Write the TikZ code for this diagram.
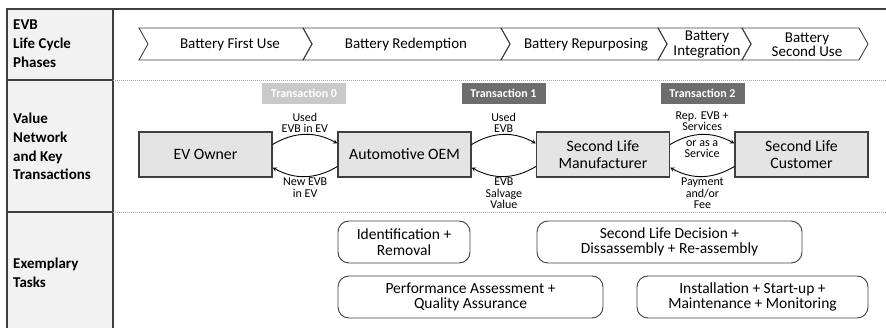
\documentclass[tikz,border=0pt]{standalone}
\usepackage{fontspec}
\setmainfont{Carlito}
\usepackage{tikz}
\usetikzlibrary{shapes,shapes.geometric,positioning,arrows}

\definecolor{framegray}{HTML}{3F3F3F}
\definecolor{headfill}{HTML}{F2F2F2}
\definecolor{actorfill}{HTML}{E4E4E4}
\definecolor{tralight}{HTML}{C9C9C9}
\definecolor{tradark}{HTML}{6D6D6D}

\tikzset{
    frame/.style={draw=framegray, line width=1.2pt},
    rowsep/.style={draw=gray!70, line width=0.8pt, dash pattern=on 1pt off 1pt},
    rowhead/.style={anchor=west, inner sep=0pt, align=left,
        font=\bfseries\fontsize{15}{18.8}\selectfont},
    phase/.style={draw=framegray, line width=0.9pt},
    phasetext/.style={align=center, inner sep=0pt,
        font=\fontsize{15}{14.5}\selectfont},
    actor/.style={draw=framegray, line width=1.2pt, fill=actorfill,
        minimum width=133pt, minimum height=45pt, align=center,
        font=\fontsize{15.8}{16.5}\selectfont},
    trans/.style={minimum width=84pt, minimum height=21pt, inner sep=0pt,
        text=white, font=\bfseries\fontsize{12}{12}\selectfont},
    flow/.style={draw=black, line width=0.9pt, -stealth, bend left=30},
    flowlabel/.style={align=center, inner sep=1.2pt,
        font=\fontsize{12}{11.6}\selectfont},
    task/.style={draw=framegray, line width=0.9pt, rounded corners=11pt,
        minimum height=42pt, align=center,
        font=\fontsize{15.5}{15.5}\selectfont}
}

\begin{document}
\begin{tikzpicture}[x=1pt,y=-1pt]
    \useasboundingbox (0,0) rectangle (886,328);

    \fill[headfill] (7,9) rectangle (113,328);
    \draw[frame] (7,328) -- (7,9) -- (886,9);
    \draw[frame] (113,9) -- (113,328);
    \draw[frame] (7,80) -- (113,80);
    \draw[frame] (7,212) -- (113,212);
    \draw[rowsep] (113,80) -- (886,80);
    \draw[rowsep] (113,212) -- (886,212);

    \node[rowhead] (hphases) at (13,43.5) {EVB\\Life Cycle\\Phases};
    \node[rowhead] (hnetwork) at (13,146.5) {Value\\Network\\and Key\\Transactions};
    \node[rowhead] (htasks) at (13,272.5) {Exemplary\\Tasks};

    \foreach \a/\b in {139/312, 303/510, 501/667, 658/751, 742/868}
        \draw[phase] (\a,28) -- (\b-9,28) -- (\b,44) -- (\b-9,60) -- (\a,60) -- (\a+9,44) -- cycle;
    \node[phasetext] (firstuse) at (230,44.5) {Battery First Use};
    \node[phasetext] (redemption) at (406,44.5) {Battery Redemption};
    \node[phasetext] (repurposing) at (586,44.5) {Battery Repurposing};
    \node[phasetext] (integration) at (707,44.5) {Battery\\Integration};
    \node[phasetext] (seconduse) at (807,44.5) {Battery\\Second Use};

    \node[trans, fill=tralight] (trans0) at (304,93.5) {Transaction 0};
    \node[trans, fill=tradark] (trans1) at (503.5,93.5) {Transaction 1};
    \node[trans, fill=tradark] (trans2) at (702.5,93.5) {Transaction 2};

    \node[actor] (owner) at (205.5,154.5) {EV Owner};
    \node[actor] (oem) at (404.5,154.5) {Automotive OEM};
    \node[actor] (slman) at (603,154.5) {Second Life\\Manufacturer};
    \node[actor] (slcust) at (801.5,154.5) {Second Life\\Customer};

    \draw[flow] ([yshift=10pt]owner.east) to node[flowlabel, above] {Used\\EVB in EV} ([yshift=11pt]oem.west);
    \draw[flow] ([yshift=-12pt]oem.west) to node[flowlabel, below] {New EVB\\in EV} ([yshift=-13pt]owner.east);
    \draw[flow] ([yshift=10pt]oem.east) to node[flowlabel, above] {Used\\EVB} ([yshift=11pt]slman.west);
    \draw[flow] ([yshift=-12pt]slman.west) to node[flowlabel, below] {EVB\\Salvage\\Value} ([yshift=-13pt]oem.east);
    \draw[flow] ([yshift=10pt]slman.east) to node[flowlabel, above=2pt] {Rep. EVB +\\Services} node[flowlabel, below=4pt] {or as a\\Service} ([yshift=11pt]slcust.west);
    \draw[flow] ([yshift=-12pt]slcust.west) to node[flowlabel, below] {Payment\\and/or\\Fee} ([yshift=-13pt]slman.east);

    \node[task, minimum width=132pt] (identify) at (404,242) {Identification +\\Removal};
    \node[task, minimum width=265pt] (decision) at (669.5,242) {Second Life Decision +\\Dissassembly + Re-assembly};
    \node[task, minimum width=265pt] (assess) at (470.5,297) {Performance Assessment +\\Quality Assurance};
    \node[task, minimum width=231pt] (install) at (752.5,297) {Installation + Start-up +\\Maintenance + Monitoring};
\end{tikzpicture}
\end{document}
